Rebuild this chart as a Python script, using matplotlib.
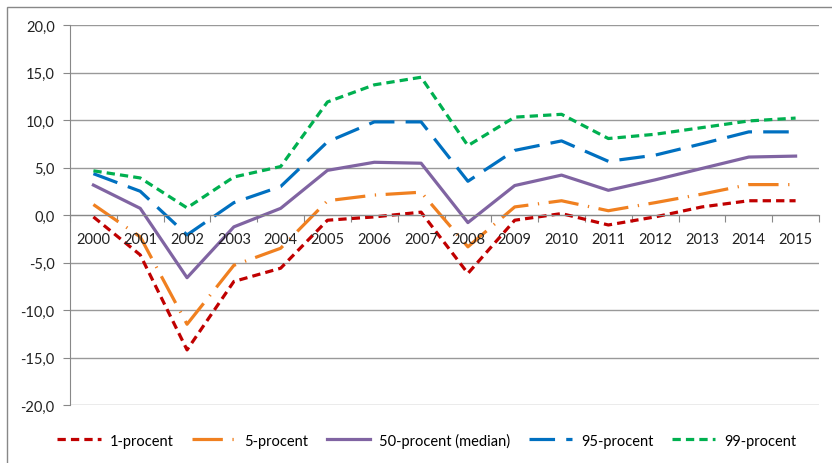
import matplotlib.pyplot as plt
from matplotlib.patches import Rectangle

years = [str(y) for y in range(2000, 2016)]

p1 = [-0.2, -4.2, -14.2, -7.0, -5.6, -0.55, -0.2, 0.3, -6.15, -0.55, 0.15, -1.05, -0.2, 0.85, 1.5, 1.5]
p5 = [1.1, -2.3, -11.5, -5.3, -3.5, 1.5, 2.1, 2.4, -3.35, 0.85, 1.5, 0.45, 1.3, 2.2, 3.2, 3.2]
p50 = [3.15, 0.7, -6.6, -1.25, 0.7, 4.7, 5.55, 5.45, -0.8, 3.1, 4.2, 2.6, 3.7, 4.9, 6.1, 6.2]
p95 = [4.35, 2.5, -2.1, 1.3, 3.0, 7.7, 9.8, 9.8, 3.55, 6.8, 7.8, 5.65, 6.3, 7.5, 8.75, 8.75]
p99 = [4.65, 3.9, 0.75, 4.0, 5.1, 11.9, 13.7, 14.5, 7.3, 10.3, 10.6, 8.05, 8.5, 9.2, 9.9, 10.2]

labels = ["1-procent", "5-procent", "50-procent (median)", "95-procent", "99-procent"]
yticks = [-20, -15, -10, -5, 0, 5, 10, 15, 20]

plt.rcParams['font.family'] = ['Lato', 'DejaVu Sans']

fig = plt.figure(figsize=(8.32, 4.64), dpi=100)
W, H = 832, 464
ax = fig.add_axes([70 / W, 1 - 406 / H, (819 - 70) / W, (406 - 26) / H])

x = list(range(len(years)))
lw = 2.3
ax.plot(x, p1, color="#c00000", lw=lw, linestyle=(0, (2.6, 1.6)), label=labels[0])
ax.plot(x, p5, color="#f08020", lw=lw, linestyle=(0, (9.5, 3, 0.4, 3)), label=labels[1])
ax.plot(x, p50, color="#8064a2", lw=lw, linestyle="-", label=labels[2])
ax.plot(x, p95, color="#0070c0", lw=lw, linestyle=(0, (8, 3.5)), label=labels[3])
ax.plot(x, p99, color="#00b050", lw=lw, linestyle=(0, (2.6, 1.6)), label=labels[4])

ax.set_xlim(-0.5, len(years) - 0.5)
ax.set_ylim(-20, 20)
ax.set_yticks(yticks)
ax.set_yticklabels([f"{v:.1f}".replace(".", ",") for v in yticks], fontsize=10.5, color="#222222")
ax.tick_params(axis="y", length=5, color="#888888", pad=6)
ax.grid(axis="y", color="#999999", lw=1)
ax.set_axisbelow(True)

for s in ["top", "right"]:
    ax.spines[s].set_visible(False)
ax.spines["left"].set_color("#888888")
ax.spines["bottom"].set_position(("data", 0))
ax.spines["bottom"].set_color("#888888")

# category labels sit under the zero line, ticks between categories
ax.set_xticks([i + 0.5 for i in x[:-1]] + [-0.5, len(years) - 0.5])
ax.set_xticklabels([])
ax.tick_params(axis="x", length=5, color="#888888", direction="out")
for i, yr in enumerate(years):
    ax.text(i, -1.75, yr, ha="center", va="top", fontsize=10.5, color="#222222")

fig.legend(loc="center", bbox_to_anchor=(0.513, 1 - 441 / H), ncol=5, frameon=False,
           fontsize=10.5, handlelength=3.0, columnspacing=1.25, handletextpad=0.6)

# outer chart border (cropped at right/bottom)
fig.patches.append(Rectangle((7 / W, -0.1), 1.2, 1 - 8 / H + 0.1, transform=fig.transFigure,
                             fill=False, edgecolor="#888888", lw=1))

plt.savefig("out.png", dpi=100)
